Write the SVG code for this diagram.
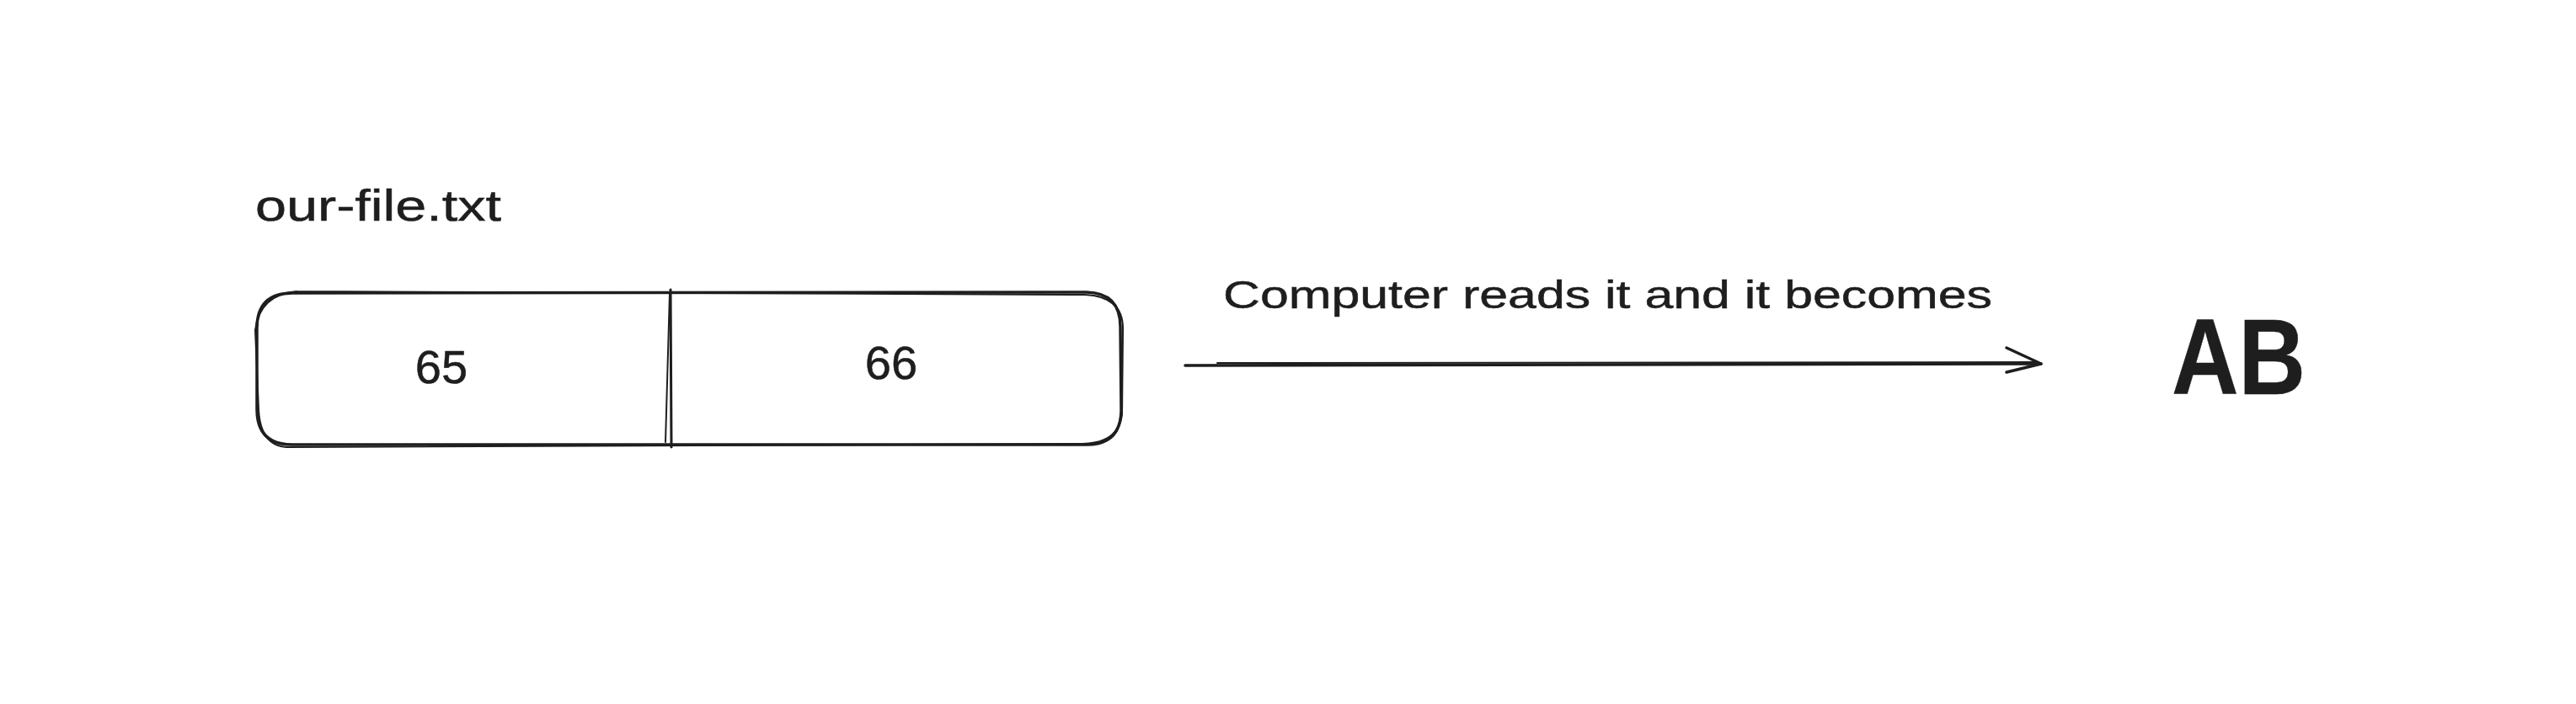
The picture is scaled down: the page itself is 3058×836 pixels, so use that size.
<svg xmlns="http://www.w3.org/2000/svg" width="3058" height="836" viewBox="0 0 3058 836">
<style>
.s{fill:none;stroke:#1e1e1e;stroke-linecap:round;stroke-linejoin:round}
.t{fill:#1e1e1e;stroke:#1e1e1e;stroke-width:0.5;font-family:"Liberation Sans",Arial,sans-serif}
</style>
<rect width="3058" height="836" fill="#ffffff"/>
<g id="label-file">
<text class="t" x="303" y="262" font-size="52" textLength="292" lengthAdjust="spacingAndGlyphs">our-file.txt</text>
</g>
<g id="box-file">
<path class="s" stroke-width="3.5" d="M347,348 L1290,347 Q1330,348 1330,388 L1331,488 Q1330,528 1290,528 L347,528 Q305,528 305,486 L305,390 Q305,348 347,348 Z"/>
<path class="s" stroke-width="2" d="M352,346 L1288,350 Q1334,352 1333,392 L1332,492 Q1328,526 1285,527 L340,531 Q309,529 307,486 L303,392 Q308,350 352,346"/>
</g>
<g id="cell-65">
<text class="t" x="524" y="455" font-size="56" text-anchor="middle">65</text>
</g>
<g id="divider">
<path class="s" stroke-width="3" d="M796,344 L797,531"/>
<path class="s" stroke-width="2" d="M795,348 L790,525"/>
</g>
<g id="cell-66">
<text class="t" x="1058" y="450" font-size="56" text-anchor="middle">66</text>
</g>
<g id="arrow-label">
<text class="t" x="1452" y="366" font-size="46" textLength="913" lengthAdjust="spacingAndGlyphs">Computer reads it and it becomes</text>
</g>
<g id="connectors">
<path class="s" stroke-width="3.5" d="M1407,434 L2423,432"/>
<path class="s" stroke-width="2" d="M1445,431 L2420,430"/>
<path class="s" stroke-width="3.5" d="M2382,413 L2423,432 L2382,442"/>
</g>
<g id="result">
<text class="t" x="2578" y="468" font-size="128" font-weight="bold" textLength="159" lengthAdjust="spacingAndGlyphs">AB</text>
</g>
</svg>
